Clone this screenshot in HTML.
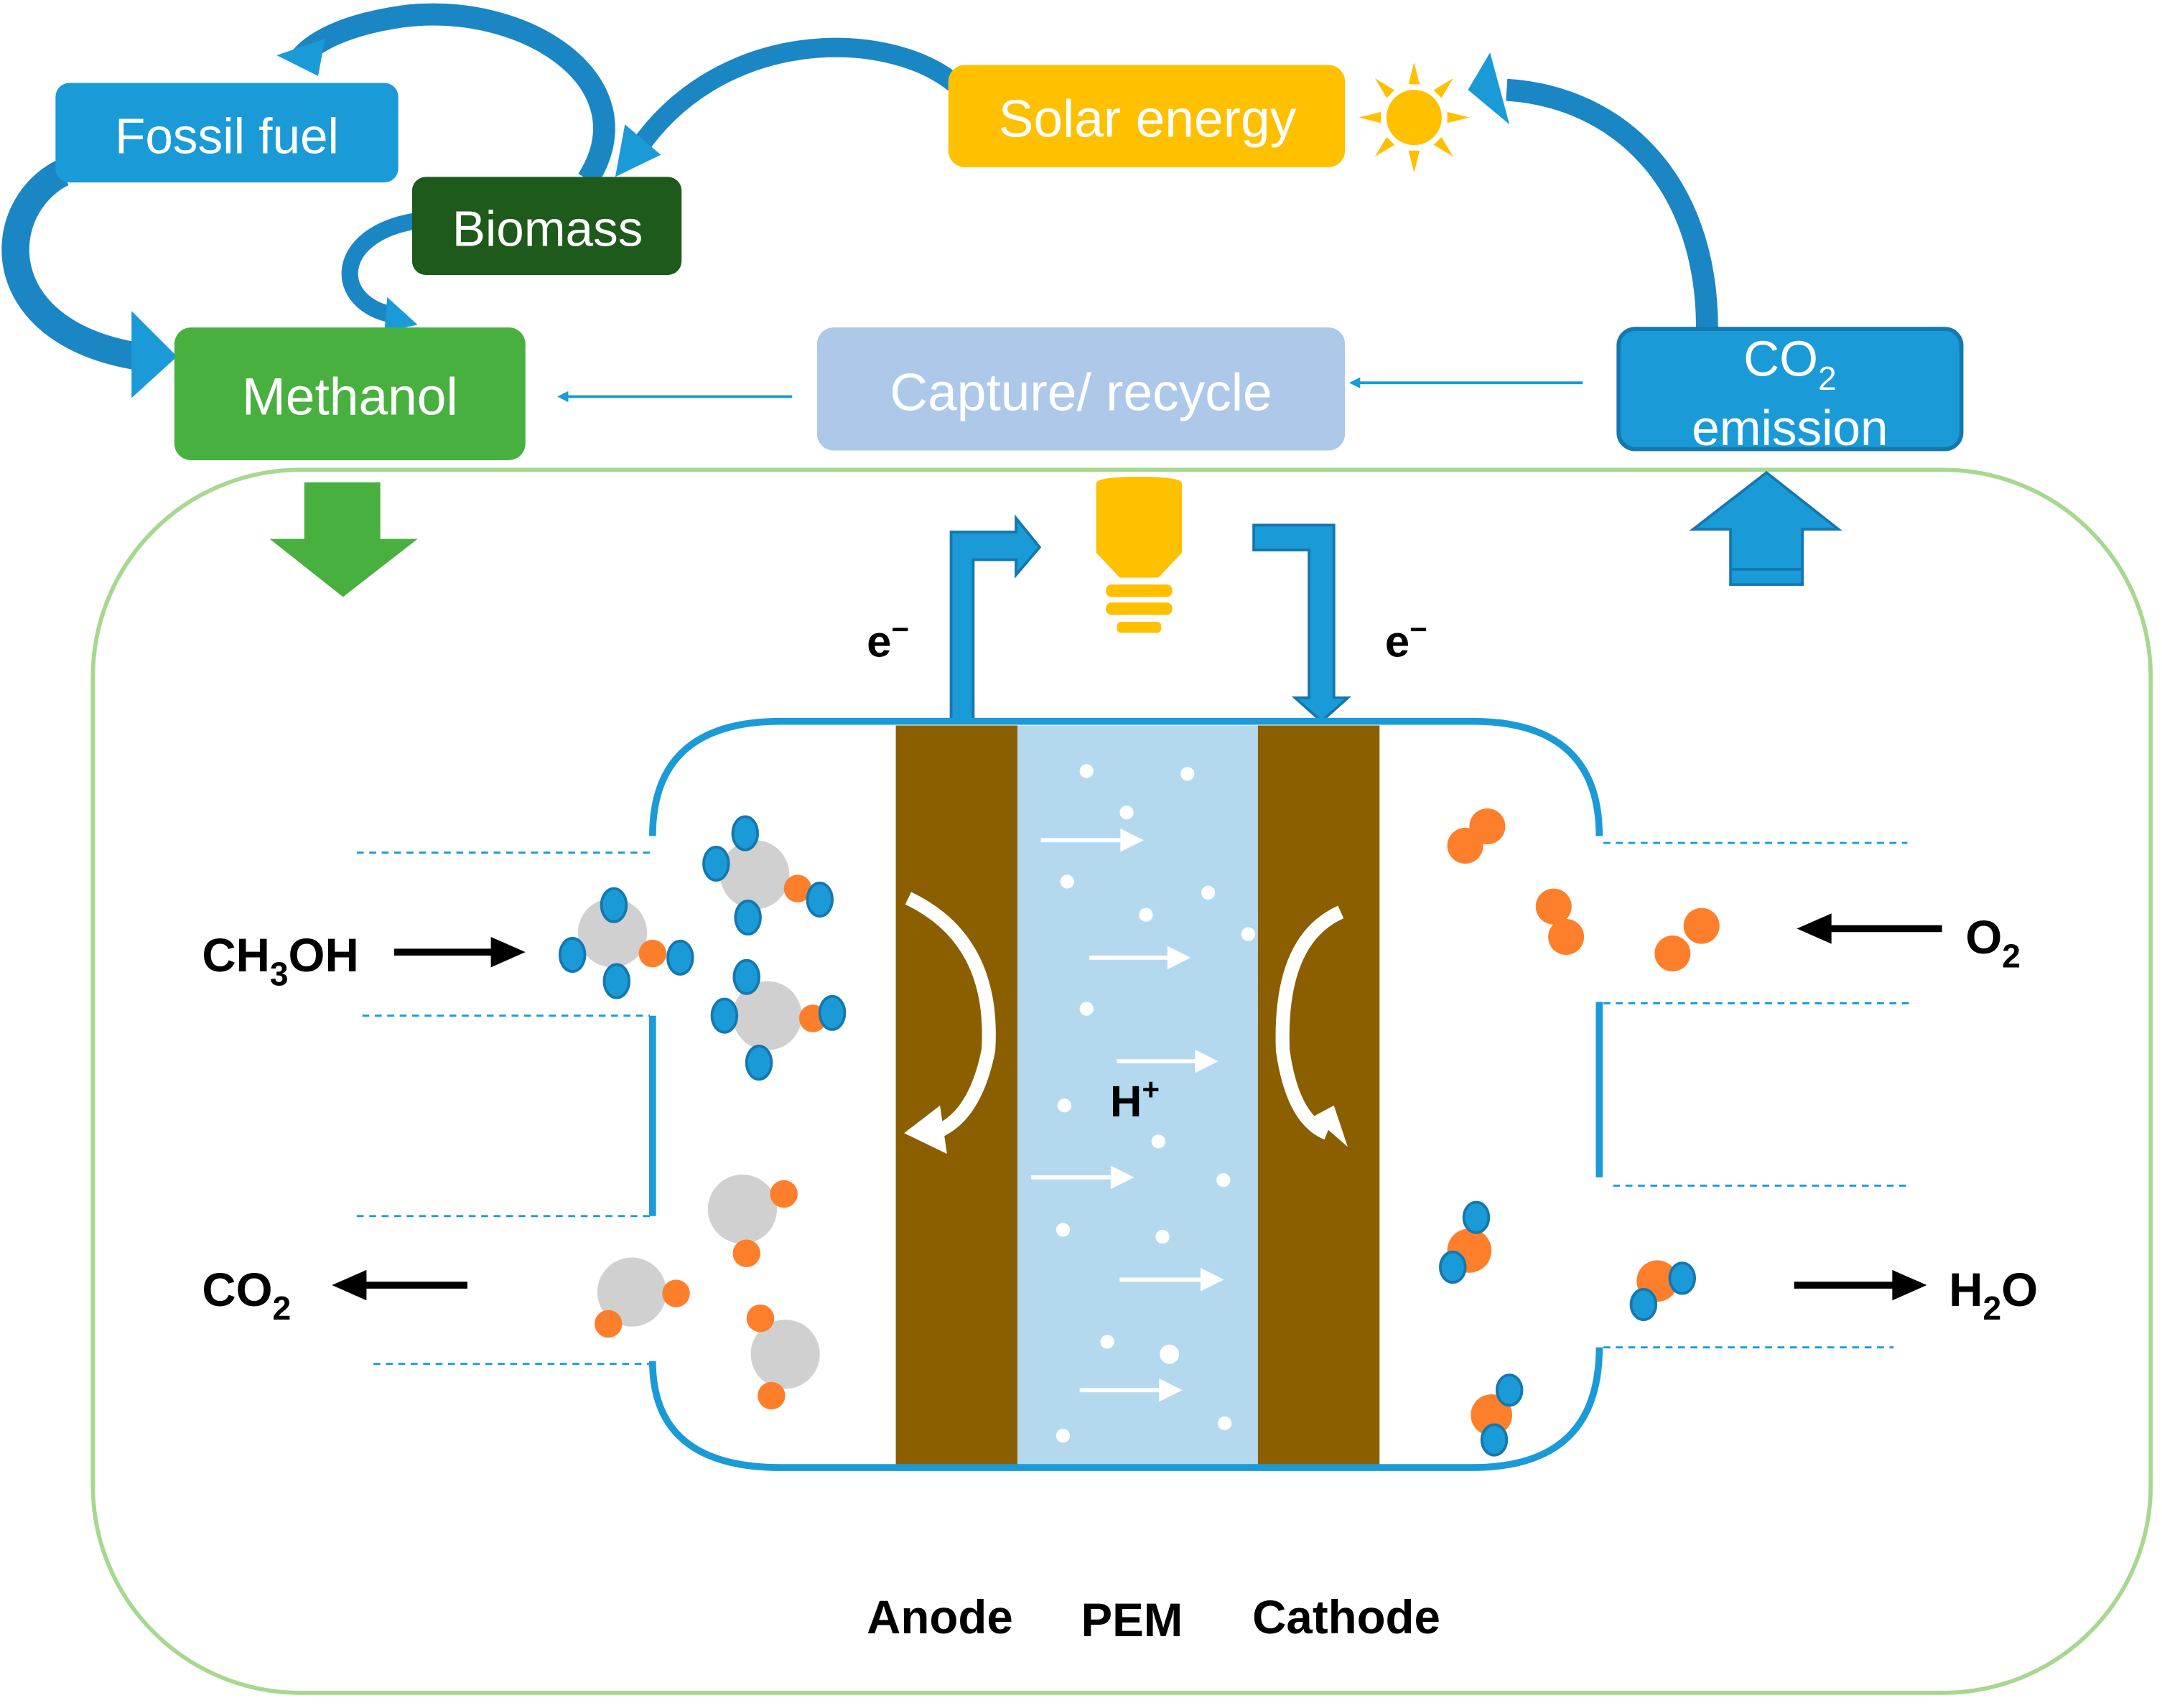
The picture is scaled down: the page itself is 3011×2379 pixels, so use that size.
<!DOCTYPE html>
<html><head><meta charset="utf-8"><style>
html,body{margin:0;padding:0;background:#fff;}
svg{display:block;}
text{font-family:"Liberation Sans",sans-serif;}
</style></head><body>
<svg width="3011" height="2379" viewBox="0 0 1564 1236" xmlns="http://www.w3.org/2000/svg">
<defs>
<marker id="ab" markerWidth="8" markerHeight="8" refX="6" refY="4" orient="auto" markerUnits="userSpaceOnUse"><path d="M0,0 L8,4 L0,8 z" fill="#1a9bd7"/></marker>
</defs>
<!-- curved arrows top -->
<path d="M425,130 C470,60 380,0 290,12 C250,18 225,30 215,45" fill="none" stroke="#1a86c4" stroke-width="16"/>
<path d="M200,40 L230,55 L235,28 z" fill="#1a9bd7"/>
<path d="M690,60 C640,20 520,20 460,110" fill="none" stroke="#1a86c4" stroke-width="14"/>
<path d="M445,128 L478,112 L452,90 z" fill="#1a9bd7"/>
<path d="M45,125 C-5,150 -10,240 100,258" fill="none" stroke="#1a86c4" stroke-width="20"/>
<path d="M95,225 L128,258 L95,288 z" fill="#1a9bd7"/>
<path d="M300,160 C240,170 240,220 285,228" fill="none" stroke="#1a86c4" stroke-width="12"/>
<path d="M280,215 L302,235 L278,240 z" fill="#1a9bd7"/>
<path d="M1235,238 C1235,130 1170,70 1090,65" fill="none" stroke="#1a86c4" stroke-width="16"/>
<path d="M1062,65 L1078,38 L1092,90 z" fill="#1a9bd7"/>
<!-- boxes -->
<rect x="40" y="60" width="248" height="72" rx="10" fill="#1a9bd7"/>
<text x="164" y="111" font-size="36" fill="#fff" text-anchor="middle">Fossil fuel</text>
<rect x="298" y="128" width="195" height="71" rx="10" fill="#1e5a1c"/>
<text x="396" y="178" font-size="36" fill="#fff" text-anchor="middle">Biomass</text>
<rect x="126" y="237" width="254" height="96" rx="12" fill="#48b03f"/>
<text x="253" y="300" font-size="38" fill="#fff" text-anchor="middle">Methanol</text>
<rect x="591" y="237" width="382" height="89" rx="12" fill="#adc8e8"/>
<text x="782" y="297" font-size="38" fill="#fff" text-anchor="middle">Capture/ recycle</text>
<rect x="1171" y="238" width="248" height="87" rx="12" fill="#1a9bd7" stroke="#1478b0" stroke-width="3"/>
<text x="1295" y="272" font-size="36" fill="#fff" text-anchor="middle">CO<tspan font-size="24" dy="10">2</tspan></text>
<text x="1295" y="322" font-size="36" fill="#fff" text-anchor="middle">emission</text>
<rect x="686" y="47" width="287" height="74" rx="12" fill="#ffc000"/>
<text x="830" y="99" font-size="38" fill="#fff" text-anchor="middle">Solar energy</text>
<!-- sun -->
<g fill="#ffc000" transform="translate(1023,85)">
<circle r="20"/>
<path d="M-4,-24 L0,-40 L4,-24 z M-4,24 L0,40 L4,24 z M-24,-4 L-40,0 L-24,4 z M24,-4 L40,0 L24,4 z"/>
<path d="M-4,-24 L0,-40 L4,-24 z" transform="rotate(45)"/><path d="M-4,-24 L0,-40 L4,-24 z" transform="rotate(135)"/>
<path d="M-4,-24 L0,-40 L4,-24 z" transform="rotate(225)"/><path d="M-4,-24 L0,-40 L4,-24 z" transform="rotate(315)"/>
</g>
<!-- thin arrows -->
<line x1="573" y1="287" x2="405" y2="287" stroke="#1a9bd7" stroke-width="2" marker-end="url(#ab)"/>
<line x1="1145" y1="277" x2="978" y2="277" stroke="#1a9bd7" stroke-width="2" marker-end="url(#ab)"/>
<!-- big rounded frame -->
<rect x="67" y="340" width="1489" height="885" rx="150" fill="none" stroke="#a6d88f" stroke-width="3"/>
<!-- green down arrow -->
<path d="M220,349 L275,349 L275,390 L302,390 L248,432 L195,390 L220,390 z" fill="#48b03f"/>
<!-- blue up arrow -->
<path d="M1252,423 L1304,423 L1304,383 L1330,383 L1278,342 L1225,383 L1252,383 z" fill="#1a9bd7" stroke="#1478b0" stroke-width="2"/>
<line x1="1252" y1="412" x2="1304" y2="412" stroke="#1478b0" stroke-width="2"/>
<!-- bulb -->
<path d="M793,350 Q793,345 824,345 Q855,345 855,350 L855,400 L838,418 L810,418 L793,400 z" fill="#ffc000"/>
<rect x="800" y="423" width="48" height="9" rx="4" fill="#ffc000"/>
<rect x="800" y="436" width="48" height="9" rx="4" fill="#ffc000"/>
<rect x="808" y="450" width="32" height="8" rx="3" fill="#ffc000"/>
<!-- wires -->
<path d="M688,522 L688,385 L735,385 L735,375 L752,396 L735,416 L735,405 L704,405 L704,522" fill="#1a9bd7" stroke="#1478b0" stroke-width="2"/>
<path d="M907,380 L965,380 L965,505 L975,505 L956,522 L937,505 L947,505 L947,398 L907,398 z" fill="#1a9bd7" stroke="#1478b0" stroke-width="2"/>
<text x="627" y="475" font-size="32" font-weight="bold" fill="#000">e<tspan font-size="22" dy="-12">−</tspan></text>
<text x="1002" y="475" font-size="32" font-weight="bold" fill="#000">e<tspan font-size="22" dy="-12">−</tspan></text>
<!-- cell -->
<rect x="648" y="525" width="88" height="535" fill="#8b5e00"/>
<rect x="736" y="525" width="174" height="535" fill="#b4d9ef"/>
<rect x="910" y="525" width="88" height="535" fill="#8b5e00"/>
<g fill="none" stroke="#1a9bd7" stroke-width="5">
<path d="M472,605 Q472,522 565,522 L1065,522 Q1157,522 1157,605"/>
<path d="M472,735 L472,880"/>
<path d="M472,985 Q472,1062 565,1062 L1065,1062 Q1157,1062 1157,975"/>
<path d="M1157,725 L1157,852"/>
</g>
<g stroke="#1a9bd7" stroke-width="1.5" stroke-dasharray="5,4">
<line x1="258" y1="617" x2="470" y2="617"/><line x1="262" y1="735" x2="470" y2="735"/>
<line x1="258" y1="880" x2="470" y2="880"/><line x1="270" y1="987" x2="475" y2="987"/>
<line x1="1160" y1="610" x2="1380" y2="610"/><line x1="1160" y1="726" x2="1385" y2="726"/>
<line x1="1167" y1="858" x2="1380" y2="858"/><line x1="1160" y1="975" x2="1370" y2="975"/>
</g>
<!-- PEM contents -->
<g fill="#fff">
<circle cx="786" cy="558" r="5"/><circle cx="859" cy="560" r="5"/><circle cx="815" cy="588" r="5"/>
<circle cx="772" cy="638" r="5"/><circle cx="874" cy="646" r="5"/><circle cx="829" cy="662" r="5"/>
<circle cx="903" cy="676" r="5"/><circle cx="786" cy="730" r="5"/><circle cx="770" cy="800" r="5"/>
<circle cx="838" cy="826" r="5"/><circle cx="885" cy="854" r="5"/><circle cx="769" cy="890" r="5"/>
<circle cx="841" cy="895" r="5"/><circle cx="801" cy="971" r="5"/><circle cx="846" cy="980" r="7"/>
<circle cx="886" cy="1030" r="5"/><circle cx="769" cy="1039" r="5"/>
</g>
<g stroke="#fff" stroke-width="3" fill="#fff">
<line x1="753" y1="608" x2="812" y2="608"/><path d="M812,602 L824,608 L812,614z"/>
<line x1="788" y1="693" x2="846" y2="693"/><path d="M846,687 L858,693 L846,699z"/>
<line x1="808" y1="768" x2="866" y2="768"/><path d="M866,762 L878,768 L866,774z"/>
<line x1="746" y1="852" x2="805" y2="852"/><path d="M805,846 L817,852 L805,858z"/>
<line x1="810" y1="926" x2="870" y2="926"/><path d="M870,920 L882,926 L870,932z"/>
<line x1="781" y1="1006" x2="840" y2="1006"/><path d="M840,1000 L852,1006 L840,1012z"/>
</g>
<text x="803" y="808" font-size="32" font-weight="bold" fill="#000">H<tspan font-size="22" dy="-12">+</tspan></text>
<!-- curved white arrows -->
<path d="M657,650 Q720,680 715,760 Q705,810 675,820" fill="none" stroke="#fff" stroke-width="10"/>
<path d="M654,820 L680,800 L685,835 z" fill="#fff"/>
<path d="M970,660 Q925,680 928,760 Q935,810 960,820" fill="none" stroke="#fff" stroke-width="10"/>
<path d="M975,830 L950,808 L965,800 z" fill="#fff"/>
<!-- molecules left top -->
<g stroke="#1478b0" stroke-width="2">
<circle cx="546" cy="633" r="25" fill="#d0d0d0" stroke="none"/>
<circle cx="443" cy="675" r="25" fill="#d0d0d0" stroke="none"/>
<circle cx="555" cy="735" r="25" fill="#d0d0d0" stroke="none"/>
<circle cx="577" cy="643" r="10" fill="#fd7f2c" stroke="none"/>
<circle cx="472" cy="690" r="10" fill="#fd7f2c" stroke="none"/>
<circle cx="588" cy="737" r="10" fill="#fd7f2c" stroke="none"/>
<g fill="#1a9bd7">
<ellipse cx="539" cy="603" rx="9" ry="12"/><ellipse cx="518" cy="625" rx="9" ry="12"/><ellipse cx="541" cy="664" rx="9" ry="12"/><ellipse cx="593" cy="651" rx="9" ry="12"/>
<ellipse cx="444" cy="655" rx="9" ry="12"/><ellipse cx="414" cy="691" rx="9" ry="12"/><ellipse cx="446" cy="710" rx="9" ry="12"/><ellipse cx="492" cy="693" rx="9" ry="12"/>
<ellipse cx="540" cy="707" rx="9" ry="12"/><ellipse cx="524" cy="735" rx="9" ry="12"/><ellipse cx="549" cy="769" rx="9" ry="12"/><ellipse cx="602" cy="733" rx="9" ry="12"/>
</g>
</g>
<!-- CO2 molecules -->
<g>
<circle cx="537" cy="875" r="25" fill="#d0d0d0"/><circle cx="567" cy="864" r="10" fill="#fd7f2c"/><circle cx="540" cy="907" r="10" fill="#fd7f2c"/>
<circle cx="457" cy="935" r="25" fill="#d0d0d0"/><circle cx="489" cy="936" r="10" fill="#fd7f2c"/><circle cx="440" cy="958" r="10" fill="#fd7f2c"/>
<circle cx="568" cy="980" r="25" fill="#d0d0d0"/><circle cx="550" cy="954" r="10" fill="#fd7f2c"/><circle cx="558" cy="1010" r="10" fill="#fd7f2c"/>
</g>
<!-- O2 molecules -->
<g fill="#fd7f2c">
<circle cx="1060" cy="612" r="13"/><circle cx="1076" cy="598" r="13"/>
<circle cx="1124" cy="656" r="13"/><circle cx="1133" cy="678" r="13"/>
<circle cx="1210" cy="690" r="13"/><circle cx="1231" cy="670" r="13"/>
</g>
<!-- H2O molecules -->
<g stroke="#1478b0" stroke-width="2">
<circle cx="1063" cy="905" r="16" fill="#fd7f2c" stroke="none"/>
<circle cx="1199" cy="927" r="15" fill="#fd7f2c" stroke="none"/>
<circle cx="1079" cy="1024" r="15" fill="#fd7f2c" stroke="none"/>
<g fill="#1a9bd7">
<ellipse cx="1068" cy="881" rx="9" ry="11"/><ellipse cx="1051" cy="917" rx="9" ry="11"/>
<ellipse cx="1189" cy="944" rx="9" ry="11"/><ellipse cx="1217" cy="925" rx="9" ry="11"/>
<ellipse cx="1092" cy="1006" rx="9" ry="11"/><ellipse cx="1081" cy="1042" rx="9" ry="11"/>
</g>
</g>
<!-- black arrows and labels -->
<g stroke="#000" stroke-width="5" fill="#000">
<line x1="285" y1="689" x2="358" y2="689"/><path d="M355,678 L380,689 L355,700z" stroke="none"/>
<line x1="338" y1="930" x2="262" y2="930"/><path d="M265,919 L240,930 L265,941z" stroke="none"/>
<line x1="1405" y1="672" x2="1322" y2="672"/><path d="M1325,661 L1300,672 L1325,683z" stroke="none"/>
<line x1="1298" y1="930" x2="1372" y2="930"/><path d="M1369,919 L1394,930 L1369,941z" stroke="none"/>
</g>
<g font-weight="bold" font-size="34" fill="#000">
<text x="146" y="703">CH<tspan font-size="24" dy="10">3</tspan><tspan dy="-10">OH</tspan></text>
<text x="146" y="945">CO<tspan font-size="24" dy="10">2</tspan></text>
<text x="1422" y="690">O<tspan font-size="24" dy="10">2</tspan></text>
<text x="1410" y="945">H<tspan font-size="24" dy="10">2</tspan><tspan dy="-10">O</tspan></text>
<text x="627" y="1182">Anode</text>
<text x="782" y="1184">PEM</text>
<text x="906" y="1182">Cathode</text>
</g>
</svg>
</body></html>
